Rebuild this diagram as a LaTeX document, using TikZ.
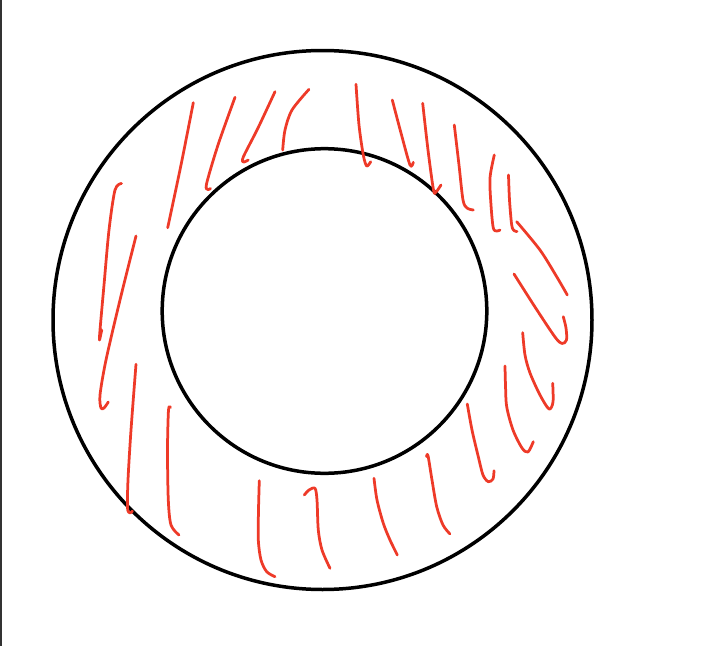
\documentclass[tikz,border=0pt]{standalone}
\usepackage{xcolor}
\definecolor{ringblack}{RGB}{0,0,0}
\definecolor{hatchred}{RGB}{238,58,40}
\definecolor{edgegray}{RGB}{50,50,50}
\usepackage{tikz}
\usetikzlibrary{calc}

\tikzset{
  ring/.style={draw=ringblack,line width=0.07cm},
  hatch/.style={draw=hatchred,line width=0.055cm,line cap=round,line join=round}
}

\begin{document}
\begin{tikzpicture}[x=0.02cm,y=-0.02cm]
  \useasboundingbox (0,0) rectangle (701,646);
  \fill[white] (0,0) rectangle (701,646);
  \draw[edgegray,line width=0.03cm] (0.8,0) -- (0.8,646);

  %% the two rings
  \draw[ring] (322.5,320) circle (269.5);
  \draw[ring] (324.5,311) circle (162.3);

  %% hatching, top-left
  \draw[hatch] plot[smooth] coordinates {(193.3,102.7) (181,165) (167.7,227.7)};
  \draw[hatch] plot[smooth] coordinates {(235,97.3) (218,145) (206.5,184) (208,189.5) (210.5,188.5)};
  \draw[hatch] plot[smooth] coordinates {(275,91.7) (258,128) (243.3,157) (243.5,162) (248.3,160)};
  \draw[hatch] plot[smooth] coordinates {(309,89.3) (292,110) (285,130) (282.7,150)};

  %% hatching, top-right
  \draw[hatch] plot[smooth] coordinates {(356,84.3) (359,125) (363.3,155) (366.7,166) (370.7,161.7)};
  \draw[hatch] plot[smooth] coordinates {(392.3,100) (401,133) (410,165) (413.3,162.3)};
  \draw[hatch] plot[smooth] coordinates {(422.7,103.3) (428,150) (433.5,190) (436,192) (441,185)};
  \draw[hatch] plot[smooth] coordinates {(454.3,125) (459,165) (463,200) (467,208) (473.3,210)};
  \draw[hatch] plot[smooth] coordinates {(494.3,155) (490,178) (491,205) (493.3,228) (497,231) (500,230)};
  \draw[hatch] plot[smooth] coordinates {(508.5,175) (509.5,200) (511.7,225) (514,230.5) (517,231.5)};
  \draw[hatch] plot[smooth] coordinates {(516.7,221.7) (540,250) (556.7,276.7) (567.3,295)};

  %% hatching, right
  \draw[hatch] plot[smooth] coordinates {(514,274) (535,307) (555,337) (562,343.5) (566.5,340) (566,328) (563.3,316.7)};
  \draw[hatch] plot[smooth] coordinates {(522.7,332.7) (525,355) (530,373) (540,395) (549,409) (553,402) (552.7,383.3)};
  \draw[hatch] plot[smooth] coordinates {(505,366) (505.5,385) (506.7,406.7) (513,430) (522,448) (528,452) (533.3,441.7)};

  %% hatching, bottom
  \draw[hatch] plot[smooth] coordinates {(467.3,404) (472,430) (478.3,456.7) (483,475) (488.3,481.7) (493,479) (494,470.7)};
  \draw[hatch] plot[smooth] coordinates {(426.5,456.5) (428,455.7) (432,480) (436.7,506.7) (443,525) (450,534)};
  \draw[hatch] plot[smooth] coordinates {(374,478.3) (377,500) (383.3,523.3) (390,540) (397.3,555)};
  \draw[hatch] plot[smooth] coordinates {(304.3,495) (309,490) (315,488.3) (317,500) (318.3,530) (322,550) (330,568.3)};
  \draw[hatch] plot[smooth] coordinates {(259.3,480.7) (258.5,510) (258.3,540) (261,560) (266.7,571.7) (275,576.7)};

  %% hatching, left
  \draw[hatch] plot[smooth] coordinates {(170.5,407.5) (168.5,410) (167.5,450) (168.3,500) (171,525) (179,535)};
  \draw[hatch] plot[smooth] coordinates {(136,364.3) (131,430) (128,480) (127.5,508) (130,513) (132.5,511)};
  \draw[hatch] plot[smooth] coordinates {(136,236) (120,300) (106,360) (100,395) (101,408) (104,408) (108.3,402)};
  \draw[hatch] plot[smooth] coordinates {(121.5,183.5) (115,190) (109,230) (104,285) (100,330) (99.5,340) (101.7,330)};
\end{tikzpicture}
\end{document}
